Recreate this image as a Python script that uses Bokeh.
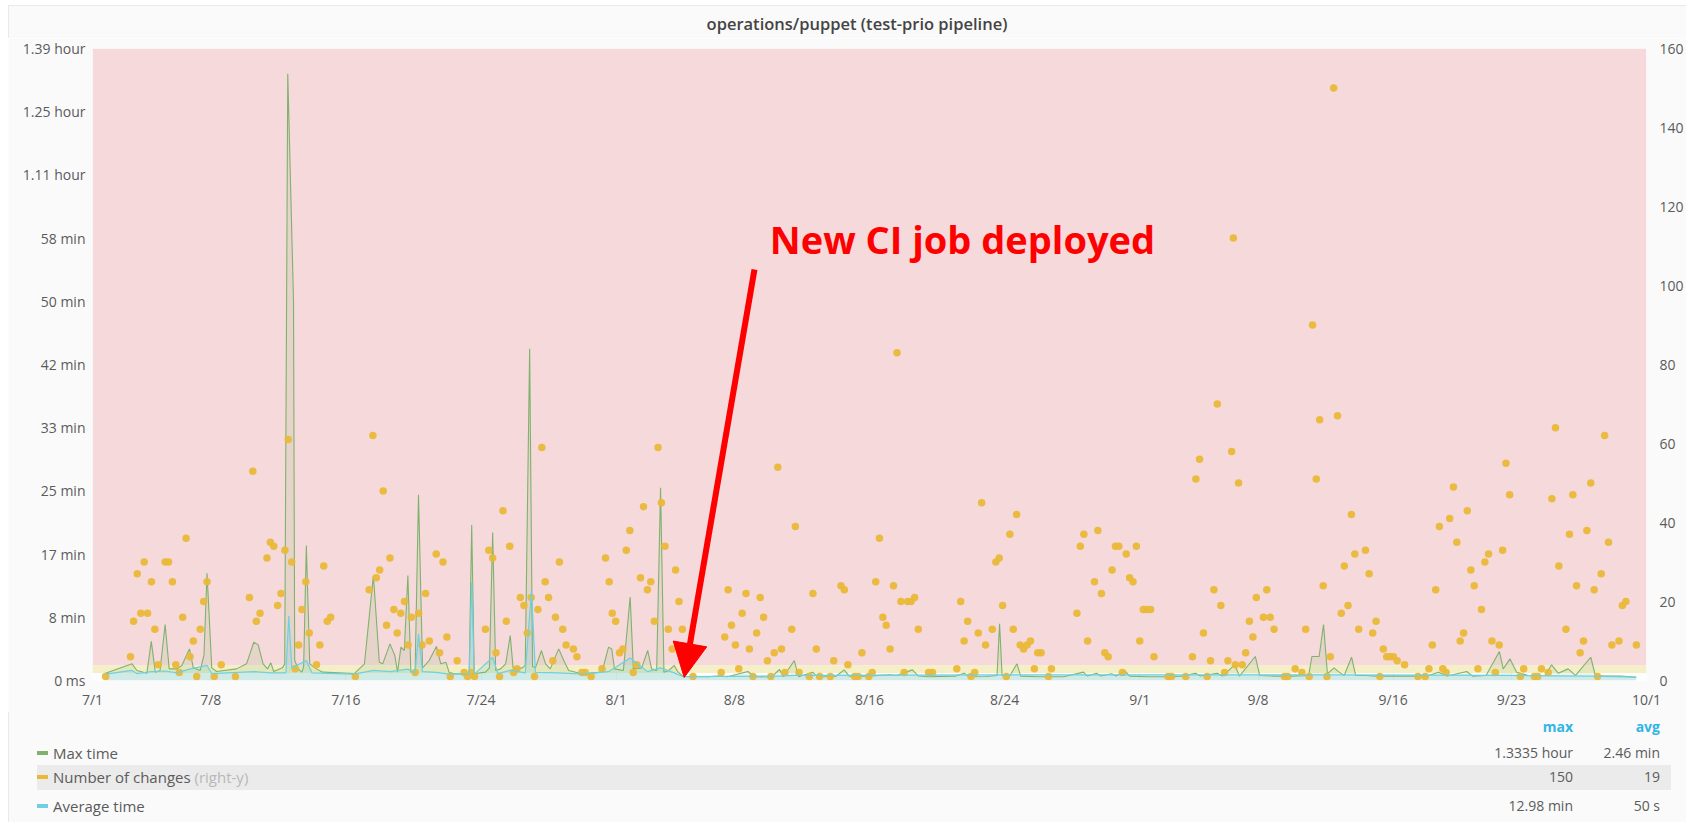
import numpy as np
from bokeh.plotting import figure
from bokeh.models import Range1d, LinearAxis, FixedTicker, BoxAnnotation, Label, Arrow, NormalHead, Div
from bokeh.layouts import column
from bokeh.embed import file_html
from bokeh.resources import INLINE
from bokeh.core.properties import value

FONT = "Open Sans"
TITLE = "operations/puppet (test-prio pipeline)"
ANNOTATION = "New CI job deployed"

# ---- axes ----
x_tick_days = [0, 7, 15, 23, 31, 38, 46, 54, 62, 69, 77, 84, 92]          # days since 7/1
x_tick_labels = ["7/1", "7/8", "7/16", "7/24", "8/1", "8/8", "8/16", "8/24",
                 "9/1", "9/8", "9/16", "9/23", "10/1"]
y_tick_seconds = [0, 500, 1000, 1500, 2000, 2500, 3000, 3500, 4000, 4500, 5000]
y_tick_labels = ["0 ms", "8 min", "17 min", "25 min", "33 min", "42 min", "50 min",
                 "58 min", "1.11 hour", "1.25 hour", "1.39 hour"]
right_ticks = [0, 20, 40, 60, 80, 100, 120, 140, 160]
warn_threshold = 60      # seconds
crit_threshold = 120     # seconds

# ---- Number of changes (right-y) ----
changes_day = [
    0.78, 2.25, 2.43, 2.65, 2.86, 3.06, 3.26, 3.49, 3.69, 3.89, 4.30, 4.50, 4.73, 4.93, 5.14, 5.34,
    5.54, 5.77, 5.97, 6.17, 6.38, 6.58, 6.78, 7.21, 7.62, 8.46, 9.29, 9.49, 9.70, 9.92, 10.33, 10.53,
    10.73, 10.96, 11.16, 11.39, 11.59, 11.79, 12.00, 12.20, 12.40, 12.63, 12.83, 13.26, 13.46, 13.69,
    13.90, 14.10, 15.56, 16.38, 16.60, 16.80, 17.00, 17.21, 17.41, 17.61, 17.84, 18.04, 18.25, 18.47,
    18.68, 18.88, 19.10, 19.31, 19.51, 19.72, 19.94, 20.35, 20.55, 20.75, 20.98, 21.18, 21.59, 22.00,
    22.20, 22.42, 22.62, 23.26, 23.46, 23.69, 23.89, 24.10, 24.30, 24.50, 24.70, 24.93, 25.13, 25.33,
    25.54, 25.74, 25.97, 26.17, 26.37, 26.60, 26.80, 27.00, 27.25, 27.41, 27.64, 27.84, 28.04, 28.47,
    28.68, 28.97, 29.17, 29.52,
    30.16, 30.37, 30.59, 30.77, 30.97, 31.20, 31.40, 31.60, 31.81, 32.01, 32.22, 32.44, 32.62, 32.85,
    33.05, 33.26, 33.48, 33.68, 33.89, 34.09, 34.32, 34.52, 34.72, 34.92, 35.55, 37.22, 37.43, 37.63,
    37.83, 38.06, 38.26, 38.46, 38.69, 38.89, 39.10, 39.32, 39.53, 39.73, 39.96, 40.16, 40.36, 40.57,
    40.79, 40.99, 41.40, 41.61, 41.83, 42.44, 42.65, 42.85, 43.05, 43.68, 43.88, 44.31, 44.51, 44.72,
    45.12, 45.33, 45.55, 45.96, 46.16, 46.37, 46.59, 46.79, 46.99, 47.22, 47.42, 47.63, 47.86, 48.05,
    48.26, 48.46, 48.67, 48.89, 49.50, 49.73, 51.17, 51.40, 51.60, 51.81, 52.01, 52.23, 52.44, 52.64,
    52.87, 53.27, 53.48, 53.68, 53.88, 54.10, 54.31, 54.51, 54.71, 54.92, 55.12, 55.33, 55.53, 55.76,
    55.96, 56.16, 56.60, 56.77,
    58.28, 58.48, 58.69, 58.91, 59.32, 59.52, 59.73, 59.93, 60.13, 60.36, 60.56, 60.76, 60.97, 61.20,
    61.40, 61.60, 61.80, 62.00, 62.21, 62.41, 62.64, 62.84, 63.68, 63.88, 64.72, 65.12, 65.32, 65.54,
    65.77, 65.99, 66.19, 66.39, 66.59, 66.80, 67.02, 67.22, 67.44, 67.54, 67.66, 67.85, 68.07, 68.27,
    68.49, 68.70, 68.90, 69.32, 69.52, 69.72, 69.95, 70.57, 70.76, 71.20, 71.60, 71.82, 72.03, 72.23,
    72.45, 72.65, 72.86, 73.08, 73.28, 73.48, 73.71, 73.93, 74.11, 74.33, 74.53, 74.73, 74.96, 75.36,
    75.58, 75.79, 75.99, 76.21, 76.42, 76.62, 76.82, 77.02, 77.24, 77.68, 78.47, 78.90, 79.12, 79.32,
    79.52, 79.74, 79.94, 80.14, 80.35, 80.57, 80.77, 80.97, 81.17, 81.39, 81.60, 81.80, 82.02, 82.23,
    82.43, 82.65, 82.85, 83.05, 83.28, 83.48, 83.68, 83.90, 84.53, 84.73, 85.36, 85.56, 85.78, 86.18,
    86.40, 86.61, 86.81, 87.23, 87.44, 87.64, 87.86, 88.07, 88.27, 88.47, 88.70, 88.90, 89.10, 89.32,
    89.52, 89.75, 89.95, 90.37, 90.57, 90.78, 91.40]
changes_val = [
    1, 6, 15, 27, 17, 30, 17, 25, 13, 4, 30, 30, 25, 4, 2, 16,
    36, 6, 10, 1, 13, 20, 25, 1, 4, 1, 21, 53, 15, 17, 31, 35,
    34, 19, 22, 33, 61, 30, 3, 9, 18, 25, 12, 4, 9, 29,
    15, 16, 1, 23, 62, 26, 28, 48, 14, 31, 18, 12, 17, 20,
    9, 16, 2, 17, 9, 22, 10, 32, 7, 30, 11, 1, 5, 2,
    1, 2, 1, 13, 33, 31, 7, 1, 43, 15, 34, 2, 3, 21,
    19, 12, 21, 1, 18, 59, 25, 21, 5, 16, 30, 13, 9, 8,
    6, 2, 2, 1,
    3, 31, 25, 17, 15, 7, 8, 33, 38, 2, 4, 26, 44, 23,
    25, 15, 59, 45, 34, 13, 8, 28, 20, 13, 1, 2, 11, 23,
    14, 9, 3, 17, 22, 8, 1, 12, 21, 16, 5, 1, 7, 54,
    8, 2, 13, 39, 2, 1, 22, 8, 1, 1, 5, 24, 23, 4,
    1, 1, 7, 1, 2, 25, 36, 16, 14, 8, 24, 83, 20, 2,
    20, 20, 21, 13, 2, 2, 3, 20, 10, 15, 1, 2, 12, 45,
    9, 13, 30, 31, 19, 1, 37, 13, 42, 9, 8, 9, 10, 3,
    7, 7, 1, 3,
    17, 34, 37, 10, 25, 38, 22, 7, 6, 28, 34, 34, 2, 32,
    26, 25, 34, 10, 18, 18, 18, 6, 1, 1, 1, 6, 51, 56,
    12, 1, 5, 23, 70, 19, 2, 5, 58, 112, 4, 50, 4, 7,
    15, 11, 21, 16, 23, 16, 13, 1, 1, 3, 2, 13, 1, 90,
    51, 66, 24, 1, 6, 150, 67, 17, 29, 19, 42, 32, 13, 33,
    27, 12, 15, 1, 8, 6, 6, 6, 5, 4, 1, 1, 3, 9,
    23, 39, 3, 2, 41, 49, 35, 10, 12, 43, 28, 24, 3, 18,
    30, 32, 10, 2, 9, 33, 55, 47, 1, 3, 1, 1, 3, 2,
    46, 64, 29, 13, 37, 47, 24, 7, 10, 38, 50, 23, 1, 27,
    62, 35, 9, 10, 19, 20, 9]

# ---- Max time (seconds) ----
max_day = [
    0.77, 2.34, 2.63, 3.22, 3.48, 3.72, 4.00, 4.30, 4.54, 5.00, 5.29, 5.74, 5.97, 6.37, 6.60, 6.78,
    7.06, 7.35, 8.53, 9.12, 9.55, 9.81, 10.10, 10.36, 10.56, 10.73, 11.24, 11.38, 11.56, 11.90, 11.97,
    12.17, 12.40, 12.50, 12.66, 12.86, 13.25, 13.64, 15.50, 16.10, 16.63, 16.98, 17.18, 17.61, 17.90,
    18.06, 18.26, 18.46, 18.67, 18.85, 19.10, 19.30, 19.54, 19.93, 20.36, 20.62, 20.92, 21.11, 21.40,
    22.10, 22.30, 22.45, 22.60, 23.27, 23.50, 23.69, 23.87, 24.16, 24.46, 24.73, 24.90, 25.14, 25.44,
    25.62, 25.88, 26.05, 26.22, 26.58, 26.82, 27.10, 27.60, 27.90, 28.19, 28.97, 30.16, 30.55, 30.74,
    30.90, 31.43, 31.83, 32.02, 32.51, 32.87, 33.10, 33.40, 33.63, 33.83, 34.12, 34.44, 34.67, 34.97,
    36.50, 37.00, 37.60, 38.80, 39.20, 40.20, 40.67, 40.90, 41.55, 41.80, 42.64, 42.90, 44.00, 44.50,
    44.80, 45.90, 47.20, 47.60, 48.54, 48.90, 49.50, 51.10, 51.60, 51.90, 52.90, 53.55, 53.70, 53.85,
    54.30, 54.73, 54.95, 56.00, 57.50, 58.66, 58.90, 59.44, 59.70, 60.33, 60.60, 61.11, 61.40, 62.50,
    63.50, 64.50, 65.30, 65.60, 66.58, 66.90, 67.62, 67.90, 68.84, 69.10, 70.00, 71.00, 72.00, 72.19,
    72.62, 72.88, 73.11, 73.50, 73.80, 74.10, 74.54, 74.78, 75.37, 76.00, 77.00, 78.00, 79.00, 79.69,
    80.20, 81.36, 81.70, 82.50, 83.29, 83.52, 83.92, 84.31, 85.00, 86.00, 86.38, 86.77, 87.36, 87.80,
    88.70, 88.97, 89.50, 90.50, 91.39]
max_sec = [
    58, 132, 79, 58, 309, 66, 79, 443, 92, 92, 119, 250, 100, 79, 200, 849,
    100, 71, 92, 132, 303, 282, 132, 92, 140, 71, 100, 130, 4800, 3000, 160,
    92, 66, 110, 1068, 132, 92, 66, 55, 132, 831, 145, 132, 290, 198,
    66, 264, 237, 831, 66, 80, 1469, 100, 158, 269, 132, 145, 66, 53,
    53, 60, 1230, 53, 66, 100, 1170, 79, 92, 132, 356, 100, 92, 100,
    120, 2624, 110, 100, 237, 132, 92, 250, 158, 79, 53, 66, 264, 250,
    92, 79, 660, 92, 100, 237, 92, 79, 1524, 66, 79, 119, 66, 32,
    30, 35, 30, 71, 30, 28, 87, 30, 158, 30, 66, 30, 32, 84,
    35, 35, 45, 40, 84, 35, 30, 35, 58, 30, 32, 40, 448, 40,
    35, 132, 35, 30, 30, 66, 35, 58, 35, 53, 35, 79, 35, 30,
    30, 35, 58, 35, 58, 35, 124, 35, 190, 40, 35, 35, 40, 190,
    190, 443, 53, 100, 66, 40, 184, 40, 40, 35, 35, 35, 35, 66,
    35, 71, 35, 40, 229, 92, 171, 66, 40, 40, 124, 58, 92, 40,
    184, 40, 35, 35, 26]

# ---- Average time (seconds) ----
avg_day = [
    0.77, 2.34, 2.63, 3.48, 4.30, 5.00, 5.74, 6.78, 7.06, 9.55, 10.56, 11.45, 11.62, 11.80, 12.66,
    13.00, 15.50, 16.63, 17.61, 18.67, 19.10, 19.30, 19.54, 20.36, 21.11, 22.30, 22.45, 22.60, 23.69,
    24.00, 24.73, 25.62, 25.99, 26.22, 27.60, 28.97, 30.55, 31.83, 32.87, 33.63, 34.44, 34.97, 40.67,
    41.55, 53.70, 72.88, 83.29, 88.70, 91.39]
avg_sec = [
    50, 80, 55, 70, 75, 60, 90, 119, 55, 70, 60, 60, 510, 100, 158,
    60, 50, 80, 70, 90, 60, 370, 70, 65, 50, 50, 778, 50, 182,
    55, 80, 60, 712, 65, 60, 50, 70, 178, 70, 100, 60, 30, 35,
    40, 45, 45, 40, 35, 26]

# ---- legend ----
legend_names = ["Max time", "Number of changes", "Average time"]
legend_notes = ["", "(right-y)", ""]
legend_max = ["1.3335 hour", "150", "12.98 min"]
legend_avg = ["2.46 min", "19", "50 s"]

C_MAX, C_CHG, C_AVG = "#7eb26d", "#eab839", "#6ed0e0"
legend_colors = [C_MAX, C_CHG, C_AVG]
TXT = "#5b5b5b"
PANEL = "#fafafa"
W = 1686

# ================= title =================
title_html = (
    f'<div style="position:relative;width:{W}px;height:38px;background:#ffffff;">'
    f'<div style="position:absolute;left:8px;top:5px;width:{W - 8}px;height:33px;background:{PANEL};'
    f'border-top:1px solid #e9e9e9;border-left:1px solid #e9e9e9;"></div>'
    f'<div style="position:absolute;left:0;top:14px;width:1714px;text-align:center;line-height:20px;'
    f'font-family:\'Open Sans\';font-size:16.5px;font-weight:600;color:#444444;">{TITLE}</div></div>')
title_div = Div(text=title_html, width=W, height=38, margin=0)

# ================= main chart =================
p = figure(width=W - 8, height=674, x_range=Range1d(0, 92), y_range=Range1d(0, 5000),
           output_backend="svg", toolbar_location=None, margin=(0, 0, 0, 8),
           min_border_left=84, min_border_top=10, min_border_bottom=32, min_border_right=0)
p.border_fill_color = PANEL
p.background_fill_color = "#fdfdfd"
p.outline_line_color = None
p.extra_y_ranges = {"changes": Range1d(0, 160)}

p.add_layout(BoxAnnotation(bottom=warn_threshold, top=crit_threshold, fill_color="#f4efc6",
                           fill_alpha=1, line_color=None, level="underlay"))
p.add_layout(BoxAnnotation(bottom=crit_threshold, fill_color="#f6d9da", fill_alpha=1,
                           line_color=None, level="underlay"))

xa = p.xaxis[0]
xa.ticker = FixedTicker(ticks=x_tick_days)
xa.major_label_overrides = {d: l for d, l in zip(x_tick_days, x_tick_labels)}
ya = p.yaxis[0]
ya.ticker = FixedTicker(ticks=y_tick_seconds)
ya.major_label_overrides = {s: l for s, l in zip(y_tick_seconds, y_tick_labels)}
ra = LinearAxis(y_range_name="changes", ticker=FixedTicker(ticks=right_ticks))
p.add_layout(ra, "right")
for ax, so in ((xa, 9), (ya, 7), (ra, 13)):
    ax.axis_line_color = None
    ax.major_tick_line_color = None
    ax.minor_tick_line_color = None
    ax.major_tick_out = 0
    ax.major_tick_in = 0
    ax.major_label_standoff = so
    ax.major_label_text_font = FONT
    ax.major_label_text_font_size = "14px"
    ax.major_label_text_color = TXT
p.xgrid.ticker = FixedTicker(ticks=x_tick_days)
p.ygrid.ticker = FixedTicker(ticks=y_tick_seconds)
for g in (p.xgrid[0], p.ygrid[0]):
    g.grid_line_color = "#000000"
    g.grid_line_alpha = 0.045

p.varea(x=max_day, y1=0, y2=max_sec, fill_color=C_MAX, fill_alpha=0.13)
p.varea(x=avg_day, y1=0, y2=avg_sec, fill_color=C_AVG, fill_alpha=0.22)
p.line(max_day, max_sec, line_color=C_MAX, line_width=1.1)
p.scatter(changes_day, changes_val, y_range_name="changes", size=7.5, fill_color=C_CHG,
          line_color=None, fill_alpha=0.95)
p.line(avg_day, avg_sec, line_color=C_AVG, line_width=1.2)

p.add_layout(Label(x=40.1, y=3489, text=ANNOTATION, text_align="left", text_baseline="middle",
                   text_font=FONT, text_font_size="38px", text_font_style="bold",
                   text_color="#ff0000"))
p.add_layout(Arrow(x_start=39.19, y_start=3252, x_end=35.03, y_end=24, line_color="#ff0000",
                   line_width=6, end=NormalHead(size=34, fill_color="#ff0000", line_color="#ff0000")))

# ================= legend table =================
LH = 110
rows_y = [41, 65, 94]
parts = [f'<div style="position:relative;width:{W}px;height:{LH}px;background:#ffffff;'
         f'font-family:\'Open Sans\';color:{TXT};">',
         f'<div style="position:absolute;left:8px;top:0;width:{W - 8}px;height:{LH}px;background:{PANEL};'
         f'border-left:1px solid #e9e9e9;"></div>',
         '<div style="position:absolute;left:37px;top:53px;width:1634px;height:25px;background:#ebebeb;"></div>',
         f'<span style="position:absolute;right:{W - 1573}px;top:5px;line-height:20px;font-size:14px;'
         f'font-weight:bold;color:#33b5e5;">max</span>',
         f'<span style="position:absolute;right:{W - 1660}px;top:5px;line-height:20px;font-size:14px;'
         f'font-weight:bold;color:#33b5e5;">avg</span>']
for name, note, col, mx, av, y in zip(legend_names, legend_notes, legend_colors,
                                      legend_max, legend_avg, rows_y):
    parts.append(f'<div style="position:absolute;left:37px;top:{y - 2}px;width:11px;height:4px;'
                 f'background:{col};"></div>')
    note_html = f' <span style="color:#b8b8b8;">{note}</span>' if note else ''
    parts.append(f'<span style="position:absolute;left:53px;top:{y - 10}px;line-height:20px;'
                 f'font-size:15px;white-space:nowrap;">{name}{note_html}</span>')
    parts.append(f'<span style="position:absolute;right:{W - 1573}px;top:{y - 10}px;line-height:20px;'
                 f'font-size:14px;white-space:nowrap;">{mx}</span>')
    parts.append(f'<span style="position:absolute;right:{W - 1660}px;top:{y - 10}px;line-height:20px;'
                 f'font-size:14px;white-space:nowrap;">{av}</span>')
parts.append('</div>')
legend_div = Div(text="".join(parts), width=W, height=LH, margin=0)

layout = column(title_div, p, legend_div, spacing=0)
open("out.html", "w").write(file_html(layout, INLINE))
